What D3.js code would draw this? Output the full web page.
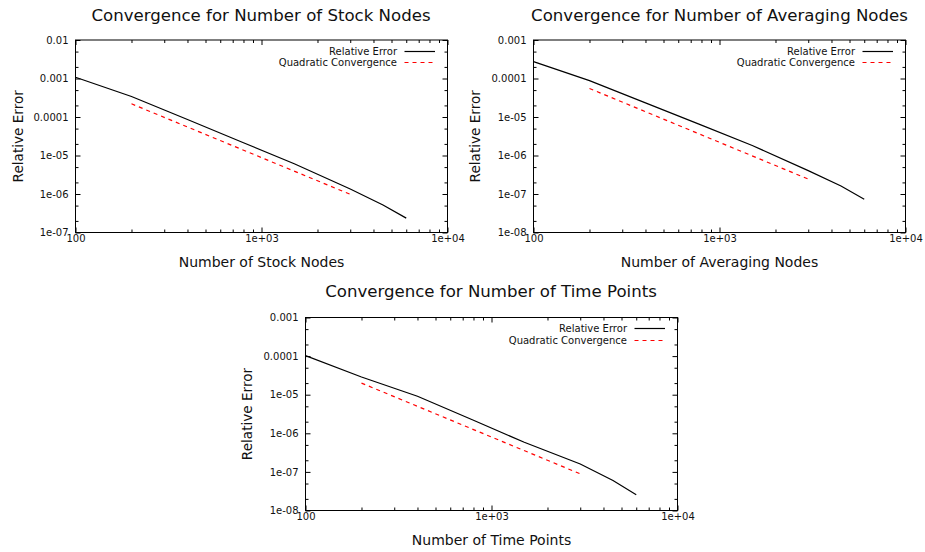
<!DOCTYPE html>
<html><head><meta charset="utf-8">
<script src="https://cdn.jsdelivr.net/npm/d3@7"></script>
<style>
body{margin:0;background:#fff}
svg{display:block}
text{font-family:"DejaVu Sans",sans-serif;fill:#111}
</style>
</head><body>
<svg id="c" width="925" height="552"></svg>
<script>
// ---------- data ----------
const errN = [100, 200, 400, 800, 1500, 3000, 4500, 6000];
const errStock = [1.08e-3, 3.4e-4, 8.6e-5, 2.15e-5, 6.1e-6, 1.35e-6, 5.2e-7, 2.36e-7];
const errAvg   = [2.74e-4, 8.8e-5, 2.33e-5, 6.15e-6, 1.82e-6, 4.05e-7, 1.62e-7, 7.3e-8];
const errTime  = [1.03e-4, 2.88e-5, 9.1e-6, 2.18e-6, 5.85e-7, 1.6e-7, 6.0e-8, 2.57e-8];

const quadN = [200, 3000];
const quadStock = [2.2e-4, 9.8e-7];
const quadAvg   = [5.5e-5, 2.44e-7];
const quadTime  = [2.0e-5, 8.9e-8];

const xTickVals = [100, 1000, 10000];
const xTickLabels = ["100", "1e+03", "1e+04"];
const yTicksStock = [1e-7, 1e-6, 1e-5, 1e-4, 1e-3, 1e-2];
const yLabelsStock = ["1e-07", "1e-06", "1e-05", "0.0001", "0.001", "0.01"];
const yTicks8 = [1e-8, 1e-7, 1e-6, 1e-5, 1e-4, 1e-3];
const yLabels8 = ["1e-08", "1e-07", "1e-06", "1e-05", "0.0001", "0.001"];

const titles = ["Convergence for Number of Stock Nodes", "Convergence for Number of Averaging Nodes", "Convergence for Number of Time Points"];
const xTitles = ["Number of Stock Nodes", "Number of Averaging Nodes", "Number of Time Points"];
const yTitle = "Relative Error";
const legendLabels = ["Relative Error", "Quadratic Convergence"];

// ---------- layout ----------
const panels = [
  {title: titles[0], xlab: xTitles[0], err: errStock, quad: quadStock, yTicks: yTicksStock, yLabels: yLabelsStock,
   left: 75.5, right: 447.5, top: 40, bottom: 232.5, titleX: 261, titleY: 20.5, yLabX: 22.7},
  {title: titles[1], xlab: xTitles[1], err: errAvg, quad: quadAvg, yTicks: yTicks8, yLabels: yLabels8,
   left: 533.5, right: 905.5, top: 40, bottom: 232.5, titleX: 719.5, titleY: 20.5, yLabX: 480.3},
  {title: titles[2], xlab: xTitles[2], err: errTime, quad: quadTime, yTicks: yTicks8, yLabels: yLabels8,
   left: 305.5, right: 677.5, top: 317.5, bottom: 510.5, titleX: 491, titleY: 297, yLabX: 252.3}
];

const svg = d3.select("#c");

function minorVals(lo, hi, mults) {
  const out = [];
  for (let d = lo; d < hi; d *= 10) mults.forEach(m => out.push(d * m));
  return out;
}

function style(sel) {
  sel.select(".domain").remove();
  sel.attr("font-family", null).attr("font-size", null);
  sel.selectAll("line").attr("stroke", "#000");
  sel.selectAll("text").style("font-size", "10px");
}

panels.forEach(p => {
  const g = svg.append("g");
  const x = d3.scaleLog().domain([100, 10000]).range([p.left, p.right]);
  const yd = d3.extent(p.yTicks);
  const y = d3.scaleLog().domain(yd).range([p.bottom, p.top]);
  const xMinor = minorVals(100, 10000, [2,3,4,5,6,7,8,9]);
  const yMinor = minorVals(yd[0], yd[1], [2,5]);

  // minor ticks
  g.append("g").attr("transform", `translate(0,${p.bottom})`)
    .call(d3.axisBottom(x).tickValues(xMinor).tickSize(-3).tickSizeOuter(0).tickFormat("")).call(style);
  g.append("g").attr("transform", `translate(0,${p.top})`)
    .call(d3.axisTop(x).tickValues(xMinor).tickSize(-3).tickSizeOuter(0).tickFormat("")).call(style);
  g.append("g").attr("transform", `translate(${p.left},0)`)
    .call(d3.axisLeft(y).tickValues(yMinor).tickSize(-3).tickSizeOuter(0).tickFormat("")).call(style);
  g.append("g").attr("transform", `translate(${p.right},0)`)
    .call(d3.axisRight(y).tickValues(yMinor).tickSize(-3).tickSizeOuter(0).tickFormat("")).call(style);

  // major ticks
  g.append("g").attr("transform", `translate(0,${p.bottom})`)
    .call(d3.axisBottom(x).tickValues(xTickVals).tickSize(-5).tickSizeOuter(0).tickPadding(2)
      .tickFormat((d, i) => xTickLabels[i])).call(style);
  g.append("g").attr("transform", `translate(0,${p.top})`)
    .call(d3.axisTop(x).tickValues(xTickVals).tickSize(-5).tickSizeOuter(0).tickFormat("")).call(style);
  g.append("g").attr("transform", `translate(${p.left},0)`)
    .call(d3.axisLeft(y).tickValues(p.yTicks).tickSize(-5).tickSizeOuter(0).tickPadding(7)
      .tickFormat((d, i) => p.yLabels[i])).call(style);
  g.append("g").attr("transform", `translate(${p.right},0)`)
    .call(d3.axisRight(y).tickValues(p.yTicks).tickSize(-5).tickSizeOuter(0).tickFormat("")).call(style);

  // frame
  g.append("rect").attr("x", p.left).attr("y", p.top)
    .attr("width", p.right - p.left).attr("height", p.bottom - p.top)
    .attr("fill", "none").attr("stroke", "#000").attr("stroke-width", 1);

  // lines
  const line = d3.line().x(d => x(d[0])).y(d => y(d[1]));
  g.append("path").datum(errN.map((n, i) => [n, p.err[i]]))
    .attr("d", line).attr("fill", "none").attr("stroke", "#000").attr("stroke-width", 1.2);
  g.append("path").datum(quadN.map((n, i) => [n, p.quad[i]]))
    .attr("d", line).attr("fill", "none").attr("stroke", "#f00").attr("stroke-width", 1.2)
    .attr("stroke-dasharray", "4,4");

  // legend
  const ly1 = Math.round(p.top + 10.5) + 0.5, ly2 = Math.round(p.top + 22) + 0.5;
  g.append("text").attr("x", p.right - 50.5).attr("y", ly1 + 3.4).attr("text-anchor", "end")
    .style("font-size", "10px").text(legendLabels[0]);
  g.append("line").attr("x1", p.right - 43).attr("x2", p.right - 12.5).attr("y1", ly1).attr("y2", ly1)
    .attr("stroke", "#000").attr("stroke-width", 1.2);
  g.append("text").attr("x", p.right - 50.5).attr("y", ly2 + 3.4).attr("text-anchor", "end")
    .style("font-size", "10px").text(legendLabels[1]);
  g.append("line").attr("x1", p.right - 43).attr("x2", p.right - 12.5).attr("y1", ly2).attr("y2", ly2)
    .attr("stroke", "#f00").attr("stroke-width", 1.2).attr("stroke-dasharray", "4,4");

  // titles
  g.append("text").attr("x", p.titleX).attr("y", p.titleY).attr("text-anchor", "middle")
    .style("font-size", "16.6px").text(p.title);
  g.append("text").attr("x", (p.left + p.right) / 2).attr("y", p.bottom + 34.3).attr("text-anchor", "middle")
    .style("font-size", "14px").text(p.xlab);
  g.append("text").attr("transform", `translate(${p.yLabX},${(p.top + p.bottom) / 2}) rotate(-90)`)
    .attr("text-anchor", "middle").style("font-size", "13.6px").text(yTitle);
});
</script>
</body></html>
